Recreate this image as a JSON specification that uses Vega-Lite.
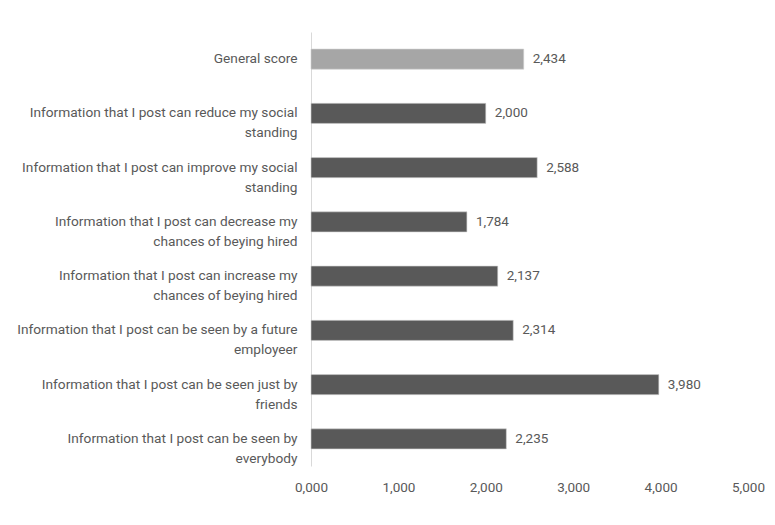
{
  "$schema": "https://vega.github.io/schema/vega-lite/v6.json",
  "width": 437,
  "height": 434,
  "autosize": {"type": "none"},
  "padding": {"left": 311, "top": 32, "right": 27, "bottom": 59},
  "background": "white",
  "config": {
    "view": {"stroke": null},
    "locale": {"number": {"decimal": ",", "thousands": ".", "grouping": [3], "currency": ["", ""]}},
    "font": "Roboto"
  },
  "data": {
    "values": [
      {"item": "General score", "value": 2.434, "kind": "general"},
      {"item": "Information that I post can reduce my  social|standing", "value": 2.000, "kind": "item"},
      {"item": "Information that I post can improve my  social|standing", "value": 2.588, "kind": "item"},
      {"item": "Information that I post can decrease my|chances of beying hired", "value": 1.784, "kind": "item"},
      {"item": "Information that I post can increase my|chances of beying hired", "value": 2.137, "kind": "item"},
      {"item": "Information that I post can be seen by a future|employeer", "value": 2.314, "kind": "item"},
      {"item": "Information that I post can be seen just by|friends", "value": 3.980, "kind": "item"},
      {"item": "Information that I post can be seen by|everybody", "value": 2.235, "kind": "item"}
    ]
  },
  "encoding": {
    "y": {
      "field": "item",
      "type": "nominal",
      "sort": null,
      "scale": {"paddingInner": 0.63, "paddingOuter": 0.315},
      "axis": {
        "title": null,
        "ticks": false,
        "domainColor": "#d9d9d9",
        "domainWidth": 1,
        "labelPadding": 14,
        "labelFontSize": 13.7,
        "labelColor": "#595959",
        "labelLineHeight": 20,
        "labelLimit": 400,
        "labelExpr": "split(datum.label, '|')"
      }
    },
    "x": {
      "field": "value",
      "type": "quantitative",
      "scale": {"domain": [0, 5], "nice": false},
      "axis": {
        "title": null,
        "values": [0, 1, 2, 3, 4, 5],
        "format": ".3f",
        "grid": false,
        "domain": false,
        "ticks": false,
        "labelFlush": false,
        "labelPadding": 14,
        "labelFontSize": 13.5,
        "labelColor": "#595959"
      }
    }
  },
  "layer": [
    {
      "mark": {"type": "bar", "stroke": "#d0d0d0", "strokeWidth": 0.6},
      "encoding": {
        "color": {
          "field": "kind",
          "type": "nominal",
          "scale": {"domain": ["general", "item"], "range": ["#a6a6a6", "#595959"]},
          "legend": null
        }
      }
    },
    {
      "mark": {"type": "text", "align": "left", "baseline": "middle", "dx": 9, "fontSize": 13.5, "color": "#595959"},
      "encoding": {
        "text": {"field": "value", "type": "quantitative", "format": ".3f"}
      }
    }
  ]
}
